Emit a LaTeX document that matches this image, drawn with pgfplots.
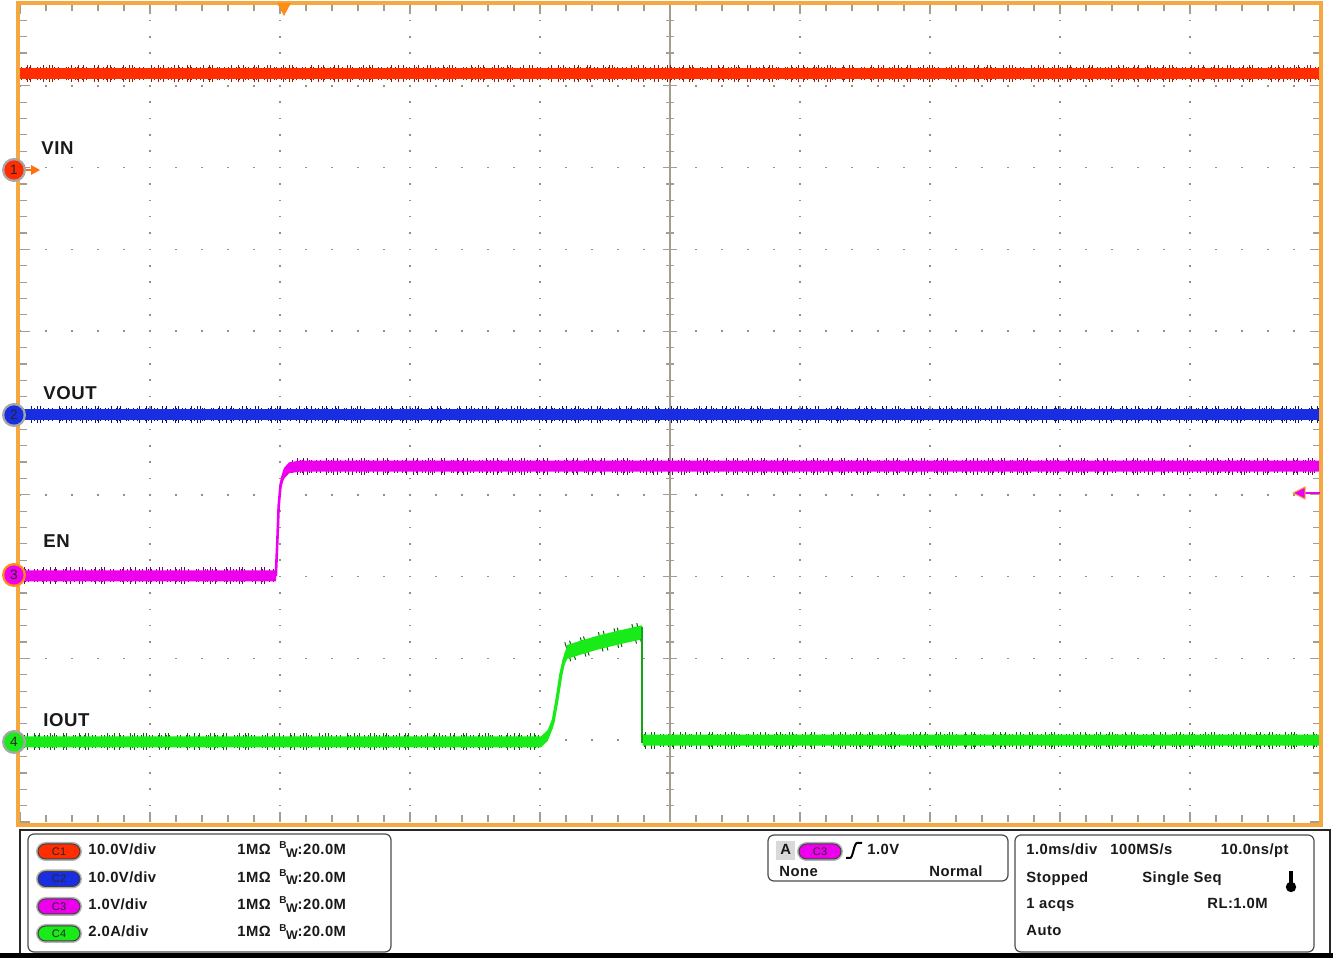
\documentclass[border=0pt]{standalone}
\usepackage{pgfplots}
\pgfplotsset{compat=1.18}
\usepackage{fontspec}
\setmainfont{Liberation Sans}
\newfontfamily\panelfont{Liberation Sans}[LetterSpace=3]
\definecolor{bord}{RGB}{246,168,64}
\definecolor{trig}{RGB}{255,140,20}
\definecolor{gridc}{RGB}{150,145,135}
\definecolor{ctr}{RGB}{165,158,142}
\definecolor{vin}{RGB}{255,45,0}
\definecolor{vind}{RGB}{150,25,0}
\definecolor{vout}{RGB}{25,45,225}
\definecolor{voutd}{RGB}{10,20,110}
\definecolor{en}{RGB}{238,0,238}
\definecolor{enk}{RGB}{110,0,110}
\definecolor{iout}{RGB}{25,235,25}
\definecolor{ioutd}{RGB}{0,100,0}
\definecolor{txt}{RGB}{25,25,25}
\tikzset{spikes/.style={line width=8.5pt, dash pattern=on 0.5pt off 1.5pt on 0.5pt off 4pt on 0.5pt off 1pt on 0.5pt off 6pt on 0.5pt off 2.5pt on 0.5pt off 1.2pt on 0.5pt off 9pt on 0.5pt off 3pt on 0.5pt off 1.8pt on 0.5pt off 5pt, line join=round},
 spikesb/.style={line width=6.6pt, dash pattern=on 0.5pt off 0.8pt on 0.5pt off 2pt on 0.5pt off 1.3pt on 0.5pt off 3.5pt on 0.5pt off 0.9pt on 0.5pt off 2.7pt, line join=round},
 band/.style={line width=5.4pt, line join=round}}
\newcommand\chmark[4]{%
 \fill[#3] (14,#1) circle (6pt);
 \fill[#2] (14,#1) circle (4.8pt);
 \node[font=\panelfont\fontsize{6.8}{7}\selectfont, text=black!85] at (14,#1) {#4};}
\newcommand\pill[4]{%
 \fill[black!30, rounded corners=4.8pt] ({#1-23},{#2-9.5}) rectangle ({#1+23},{#2+9.5});
 \filldraw[fill=#3, draw=black!75, line width=0.5pt, rounded corners=3.8pt] ({#1-21},{#2-7.5}) rectangle ({#1+21},{#2+7.5});
 \node[font=\panelfont\fontsize{5.5}{6}\selectfont, text=black!85] at (#1,#2) {#4};}
\newcommand\bw{\raisebox{3pt}{\fontsize{5}{5}\selectfont B}\kern-0.3pt\raisebox{-1.2pt}{\fontsize{6.2}{6}\selectfont W}}
\begin{document}
\begin{tikzpicture}
\useasboundingbox (0,0) rectangle (666.5pt,479pt);
\fill[white] (0,0) rectangle (666.5pt,479pt);
\begin{scope}[shift={(0pt,479pt)}, x=0.5pt, y=-0.5pt]
 \foreach \k in {1,2,3,4,6,7,8,9} {
  \draw[gridc, line width=0.8pt, dash pattern=on 0.8pt off 7.38pt, dash phase=0.4pt] ({20+130*\k},822) -- ({20+130*\k},4);
  \draw[gridc, line width=0.8pt, dash pattern=on 0.8pt off 12.2pt, dash phase=0.4pt] (20,{822-81.8*\k}) -- (1320,{822-81.8*\k});
 }
 \draw[ctr, line width=0.9pt] (670,4) -- (670,822);
 \draw[ctr, line width=0.9pt] (20,413) -- (1320,413);
 \foreach \j in {1,...,49} {
  \draw[ctr, line width=0.6pt] (666,{822-16.36*\j}) -- (674,{822-16.36*\j});
  \draw[ctr, line width=0.6pt] ({20+26*\j},409) -- ({20+26*\j},417);
 }
 \foreach \j in {1,...,9} {
  \draw[ctr, line width=0.6pt] (663,{822-81.8*\j}) -- (677,{822-81.8*\j});
  \draw[ctr, line width=0.6pt] ({20+130*\j},406) -- ({20+130*\j},420);
 }
\end{scope}
\begin{axis}[at={(10pt,68pt)}, anchor=south west, scale only axis,
 width=650pt, height=409pt, xmin=0, xmax=10, ymin=0, ymax=10,
 xtick={0,...,10}, ytick={0,...,10}, minor tick num=4,
 xticklabels={}, yticklabels={}, tick align=inside, tick pos=both,
 major tick length=5pt, minor tick length=3.5pt,
 every tick/.style={ctr, line width=0.6pt},
 axis line style={draw=none}]
% VIN
\addplot[vind, spikes, dash phase=3pt] coordinates {(0,9.15) (10,9.15)};
\addplot[vind, spikesb, dash phase=1pt] coordinates {(0,9.15) (10,9.15)};
\addplot[vin, band] coordinates {(0,9.15) (10,9.15)};
% VOUT
\addplot[voutd, spikes, dash phase=9pt] coordinates {(0,4.98) (10,4.98)};
\addplot[voutd, spikesb, dash phase=4pt] coordinates {(0,4.98) (10,4.98)};
\addplot[vout, band] coordinates {(0,4.98) (10,4.98)};
% EN
\addplot[enk, spikes, dash phase=17pt] coordinates {(0,3.01) (1.965,3.01)};
\addplot[enk, spikesb, dash phase=7pt] coordinates {(0,3.01) (1.965,3.01)};
\addplot[enk, spikes, dash phase=11pt] coordinates {(2.08,4.35) (10,4.35)};
\addplot[enk, spikesb, dash phase=5pt] coordinates {(2.08,4.35) (10,4.35)};
\addplot[fill=en, draw=none] coordinates {(0,3.077) (1.97,3.077) (1.98,3.517) (1.99,3.937) (2.005,4.197) (2.03,4.327) (2.07,4.397) (2.15,4.417) (10,4.417) (10,4.283) (2.15,4.283) (2.07,4.263) (2.03,4.193) (2.005,4.063) (1.99,3.803) (1.98,3.383) (1.97,2.943) (0,2.943)} --cycle;
\addplot[en, line width=1.3pt, line join=round] coordinates {(1.968,3.01) (1.98,3.45) (1.99,3.87) (2.005,4.13) (2.03,4.26) (2.07,4.33) (2.15,4.35)};
% IOUT
\addplot[ioutd, spikes, dash phase=25pt] coordinates {(0,0.98) (4.0,0.98)};
\addplot[ioutd, spikesb, dash phase=2pt] coordinates {(0,0.98) (4.0,0.98)};
\addplot[ioutd, spikes, dash phase=14pt] coordinates {(4.8,1.0) (10,1.0)};
\addplot[ioutd, spikesb, dash phase=6pt] coordinates {(4.8,1.0) (10,1.0)};
\addplot[ioutd, line width=10pt, dash pattern=on 0.5pt off 2pt on 0.5pt off 5pt on 0.5pt off 1.2pt on 0.5pt off 7pt] coordinates {(4.21,2.08) (4.31,2.13) (4.46,2.20) (4.62,2.26) (4.78,2.32)};
\addplot[fill=iout, draw=none] coordinates {(0,1.047) (4.008,1.047) (4.06,1.127) (4.10,1.287) (4.13,1.557) (4.16,1.867) (4.185,2.047) (4.21,2.165) (4.31,2.215) (4.46,2.285) (4.62,2.345) (4.785,2.405) (4.79,1.067) (10,1.067) (10,0.933) (4.79,0.933) (4.785,2.235) (4.62,2.175) (4.46,2.115) (4.31,2.045) (4.21,1.995) (4.185,1.913) (4.16,1.733) (4.13,1.423) (4.10,1.153) (4.06,0.993) (4.008,0.913) (0,0.913)} --cycle;
\addplot[iout, line width=1.6pt, line join=round] coordinates {(4.0,0.98) (4.06,1.06) (4.10,1.22) (4.13,1.49) (4.16,1.80) (4.185,1.98) (4.21,2.08)};
\addplot[iout!70!black, line width=0.9pt] coordinates {(4.787,2.38) (4.787,0.96)};
\end{axis}
\begin{scope}[shift={(0pt,479pt)}, x=0.5pt, y=-0.5pt]
 \draw[bord, line width=1.6pt] (18,3) rectangle (1321,825);
 % trigger markers
 \fill[trig] (277,3) -- (291,3) -- (284,16) -- cycle;
 \draw[en, line width=0.7pt] (1300,493) -- (1320,493);
 \filldraw[fill=en, draw=bord, line width=0.5pt] (1293,493) -- (1305,487) -- (1305,499) -- cycle;
 % channel markers
 \draw[trig!80!red, line width=1pt] (24,170) -- (32,170);
 \fill[trig!80!red] (31,165) -- (40,170) -- (31,175) -- cycle;
 \chmark{170}{vin}{black!35}{1}
 \chmark{415}{vout}{black!35}{2}
 \chmark{575}{en}{trig}{3}
 \chmark{742}{iout}{black!35}{4}
 % labels
 \begin{scope}[every node/.style={anchor=base west, inner sep=0pt, text=txt, font=\panelfont\bfseries\fontsize{9.3}{10}\selectfont}]
 \node at (41,155) {VIN};
 \node at (43,400) {VOUT};
 \node at (43,548) {EN};
 \node at (43,727) {IOUT};
 \end{scope}
 % panel
 \draw[black!85, line width=1pt] (20,955) -- (20,830) -- (1330,830) -- (1330,955);
 \fill[black] (0,953) rectangle (1333,958);
 \draw[black!70, line width=0.6pt, rounded corners=3pt] (28,834) rectangle (391,952);
 \draw[black!70, line width=0.6pt, rounded corners=3pt] (768,835) rectangle (1008,881);
 \draw[black!70, line width=0.6pt, rounded corners=3pt] (1015,835) rectangle (1314,952);
 \pill{59}{851.5}{vin}{C1}
 \pill{59}{879}{vout}{C2}
 \pill{59}{906.5}{en}{C3}
 \pill{59}{933.5}{iout}{C4}
 \pill{820}{851.5}{en}{C3}
 \fill[black!15] (776,841) rectangle (795,860);
 \draw[black, line width=1pt] (846,858) -- (850,858) .. controls (853,858) and (854,843) .. (857,843) -- (862,843);
 \draw[black, line width=1.6pt] (1291,871) -- (1291,885);
 \fill[black] (1291,887) circle (2.6pt);
 \begin{scope}[every node/.style={anchor=base west, inner sep=0pt, text=txt, font=\panelfont\bfseries\fontsize{7.4}{8}\selectfont}]
 \node at (88,855) {10.0V/div};
 \node at (88,882.5) {10.0V/div};
 \node at (88,910) {1.0V/div};
 \node at (88,937) {2.0A/div};
 \node at (237,855) {1MΩ};
 \node at (237,882.5) {1MΩ};
 \node at (237,910) {1MΩ};
 \node at (237,937) {1MΩ};
 \node at (279,855) {\bw:20.0M};
 \node at (279,882.5) {\bw:20.0M};
 \node at (279,910) {\bw:20.0M};
 \node at (279,937) {\bw:20.0M};
 \node at (780,855) {A};
 \node at (867,855) {1.0V};
 \node at (779,876.5) {None};
 \node[anchor=base east] at (983,876.5) {Normal};
 \node at (1026,855) {1.0ms/div};
 \node at (1110,855) {100MS/s};
 \node[anchor=base east] at (1289,855) {10.0ns/pt};
 \node at (1026,882.5) {Stopped};
 \node at (1142,882.5) {Single Seq};
 \node at (1026,909) {1 acqs};
 \node[anchor=base east] at (1268,909) {RL:1.0M};
 \node at (1026,936) {Auto};
 \end{scope}
\end{scope}
\end{tikzpicture}
\end{document}
